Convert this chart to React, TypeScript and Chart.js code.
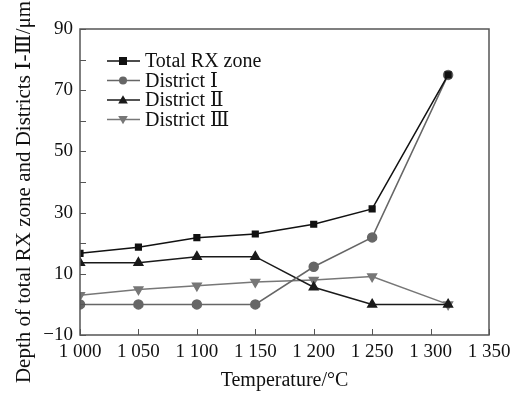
import React, { useEffect, useRef } from "react";
import { Chart, registerables } from "chart.js";

Chart.register(...registerables);

const temperatures = [1000, 1050, 1100, 1150, 1200, 1250, 1315];
const totalRX = [16.7, 18.7, 21.8, 23.0, 26.2, 31.2, 75.0];
const district1 = [0, 0, 0, 0, 12.3, 21.9, 75.0];
const district2 = [13.6, 13.6, 15.6, 15.6, 5.6, 0, 0];
const district3 = [3.0, 4.9, 6.1, 7.3, 8.0, 9.1, 0];
const seriesNames = ["Total RX zone", "District Ⅰ", "District Ⅱ", "District Ⅲ"];
const yLabelValues = [-10, 10, 30, 50, 70, 90];
const xTitle = "Temperature/°C";
const yTitle = "Depth of total RX zone and Districts Ⅰ-Ⅲ/μm";

const FONT = "'Liberation Serif', 'DejaVu Serif', 'Times New Roman', serif";

const toPts = (ys: number[]) => temperatures.map((x, i) => ({ x, y: ys[i] }));

function drawMarker(ctx: CanvasRenderingContext2D, style: string, rot: number, x: number, y: number, r: number) {
  ctx.beginPath();
  if (style === "rect") {
    ctx.rect(x - r, y - r, 2 * r, 2 * r);
  } else if (style === "circle") {
    ctx.arc(x, y, r, 0, Math.PI * 2);
  } else {
    const s = rot ? -1 : 1;
    const h = r * 1.2;
    ctx.moveTo(x, y - s * h);
    ctx.lineTo(x + h, y + s * h * 0.75);
    ctx.lineTo(x - h, y + s * h * 0.75);
    ctx.closePath();
  }
  ctx.fill();
}

const framePlugin = {
  id: "frameTicks",
  afterDraw(chart: any) {
    const { ctx, chartArea } = chart;
    const xs = chart.scales.x;
    const ys = chart.scales.y;
    ctx.save();
    ctx.strokeStyle = "#555";
    ctx.lineWidth = 1.5;
    ctx.strokeRect(chartArea.left, chartArea.top, chartArea.right - chartArea.left, chartArea.bottom - chartArea.top);
    ctx.lineWidth = 1;
    ctx.beginPath();
    for (let v = 1000; v <= 1350; v += 50) {
      const px = Math.round(xs.getPixelForValue(v)) + 0.5;
      ctx.moveTo(px, chartArea.bottom);
      ctx.lineTo(px, chartArea.bottom - 6);
    }
    for (let v = -10; v <= 90; v += 10) {
      const py = Math.round(ys.getPixelForValue(v)) + 0.5;
      ctx.moveTo(chartArea.left, py);
      ctx.lineTo(chartArea.left + 6, py);
    }
    ctx.stroke();

    // y-axis title
    ctx.save();
    ctx.translate(24, chartArea.top + (chartArea.bottom - chartArea.top) / 2 + 10);
    ctx.rotate(-Math.PI / 2);
    ctx.font = "21px " + FONT;
    ctx.fillStyle = "#111";
    ctx.textAlign = "center";
    ctx.textBaseline = "middle";
    ctx.fillText(yTitle, 0, 0);
    ctx.restore();

    // legend
    const lx = chartArea.left + 27;
    let ly = chartArea.top + 32;
    ctx.font = "20px " + FONT;
    ctx.textBaseline = "middle";
    chart.data.datasets.forEach((ds: any) => {
      ctx.strokeStyle = ds.borderColor;
      ctx.lineWidth = 1.5;
      ctx.beginPath();
      ctx.moveTo(lx, ly);
      ctx.lineTo(lx + 33, ly);
      ctx.stroke();
      ctx.fillStyle = ds.pointBackgroundColor;
      drawMarker(ctx, ds.pointStyle, ds.pointRotation || 0, lx + 16, ly, 4);
      ctx.fillStyle = "#111";
      ctx.fillText(ds.label, lx + 38, ly + 1);
      ly += 19.5;
    });
    ctx.restore();
  },
};

export default function App() {
  const ref = useRef<HTMLCanvasElement | null>(null);
  useEffect(() => {
    document.body.style.margin = "0";
    const mk = (label: string, data: number[], color: string, ps: string, rot = 0, r = 4) => ({
      label,
      data: toPts(data),
      borderColor: color,
      backgroundColor: color,
      pointBackgroundColor: color,
      pointBorderColor: color,
      pointStyle: ps,
      pointRotation: rot,
      pointRadius: r,
      borderWidth: 1.5,
      tension: 0,
    });
    const chart = new Chart(ref.current as HTMLCanvasElement, {
      type: "line",
      data: {
        datasets: [
          mk(seriesNames[0], totalRX, "#111", "rect", 0, 4),
          mk(seriesNames[1], district1, "#666", "circle", 0, 4.5),
          mk(seriesNames[2], district2, "#1a1a1a", "triangle", 0, 5),
          mk(seriesNames[3], district3, "#777", "triangle", 180, 5),
        ] as any,
      },
      options: {
        animation: false,
        responsive: false,
        maintainAspectRatio: false,
        layout: { padding: { top: 29, right: 42, left: 0, bottom: 0 } },
        plugins: { legend: { display: false }, tooltip: { enabled: false } },
        scales: {
          x: {
            type: "linear",
            min: 1000,
            max: 1350,
            afterFit: (s: any) => { s.height = 58; },
            grid: { display: false, drawTicks: false },
            border: { display: false },
            ticks: {
              stepSize: 50,
              padding: 6,
              color: "#111",
              font: { family: FONT, size: 19 },
              maxRotation: 0,
              callback: (v: any) => {
                const s = String(v);
                return s.slice(0, 1) + " " + s.slice(1);
              },
            },
            title: {
              display: true,
              text: xTitle,
              color: "#111",
              font: { family: FONT, size: 20 },
              padding: { top: 3, bottom: 0 },
            },
          },
          y: {
            min: -10,
            max: 90,
            afterFit: (s: any) => { s.width = 80; },
            grid: { display: false, drawTicks: false },
            border: { display: false },
            ticks: {
              stepSize: 10,
              padding: 7,
              color: "#111",
              font: { family: FONT, size: 19 },
              callback: (v: any) => (yLabelValues.includes(Number(v)) ? String(v).replace("-", "−") : ""),
            },
            title: { display: false },
          },
        },
      },
      plugins: [framePlugin],
    } as any);
    return () => chart.destroy();
  }, []);
  return (
    <div style={{ position: "relative", width: 531, height: 393 }}>
      <canvas ref={ref} width={531} height={393} style={{ width: 531, height: 393 }} />
    </div>
  );
}
